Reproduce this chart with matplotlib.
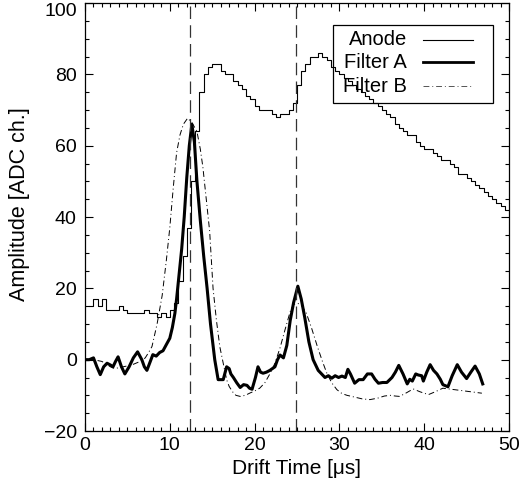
import numpy as np
import matplotlib
matplotlib.use("Agg")
import matplotlib.pyplot as plt
from matplotlib.ticker import MultipleLocator
from matplotlib.patches import Rectangle
import matplotlib.transforms as mtransforms

plt.rcParams['font.family'] = ['Liberation Sans', 'DejaVu Sans']

# ---- data ----
anode_t = [0.5 + 0.5 * i for i in range(99)]
anode_v = [15, 17, 15, 17, 14, 14, 14, 15, 14, 13,
           13, 13, 13, 14, 13, 13, 12, 13, 12, 14,
           16, 22, 29, 37, 50, 64, 75, 80, 82, 83,
           83, 81, 80, 80, 78, 77, 76, 74, 73, 71,
           70, 70, 70, 69, 68, 69, 69, 70, 72, 77,
           81, 83, 85, 85, 86, 85, 84, 82, 81, 80,
           79, 78, 77, 76, 75, 74, 73, 72, 71, 70,
           69, 68, 66, 65, 64, 63, 63, 61, 60, 59,
           59, 58, 57, 56, 56, 55, 54, 52, 52, 51,
           50, 49, 48, 47, 46, 45, 44, 43, 42]

filt_a_t = [0, 0.5, 1.0, 1.4, 1.8, 2.2, 2.6, 3.0, 3.3, 3.6, 3.9, 4.3, 4.7, 5.2, 5.7, 6.2, 6.7, 7.0,
            7.3, 7.7, 8.0, 8.4, 8.8, 9.2, 9.7, 10.0, 10.3, 10.6, 10.8, 11.1, 11.4, 11.7, 12.0, 12.3,
            12.6, 12.9, 13.2, 13.6, 14.0, 14.4, 14.8, 15.3, 15.7, 16.3, 16.7, 17.0, 17.2, 17.5, 17.9,
            18.3, 18.7, 19.1, 19.4, 19.7, 20.1, 20.4, 20.7, 21.0, 21.4, 21.8, 22.1, 22.4, 22.7, 23.0,
            23.4, 23.8, 24.2, 24.6, 25.1, 25.5, 25.9, 26.4, 26.9, 27.5, 28.3, 28.7, 29.1, 29.5, 29.9,
            30.3, 30.7, 31.0, 31.3, 31.8, 32.3, 32.8, 33.3, 33.8, 34.2, 34.6, 35.1, 35.6, 36.2, 36.6,
            37.0, 37.5, 38.0, 38.3, 38.6, 39.0, 39.3, 39.7, 39.9, 40.3, 40.7, 41.1, 41.5, 41.9, 42.2,
            42.8, 43.3, 43.9, 44.4, 45.0, 45.5, 46.0, 46.5, 46.9]
filt_a_v = [0, 0, 0.5, -2, -4.2, -2, -1, -1.5, -2, -0.5, 0.8, -2, -4, -2, 0.5, 2.2, 0, -2,
            -3, -0.5, 1.4, 1.0, 2.0, 2.5, 4.7, 6, 9, 13, 17, 24, 31, 40, 51, 60,
            66, 61, 50, 39, 29, 20, 10, 0, -5.6, -5.6, -2, -2.5, -4, -5, -6.5,
            -7.8, -7, -7.2, -8, -8.3, -5, -2, -3.5, -3.8, -3.5, -3, -2.5, -2, 0, 1.3,
            0.5, 4, 11, 16, 20.6, 17, 12, 5, 0, -3, -5, -4.5, -5.2, -4.5, -5,
            -4.6, -5, -2.7, -4, -6.6, -5.6, -5.6, -4, -4, -5.5, -6.6, -6.4, -6.4, -5, -3.5,
            -1.6, -4, -6.8, -5.5, -6, -4, -4.3, -4.5, -6, -3.5, -1.4, -3, -4, -5.5, -7,
            -7.6, -4.5, -1.4, -3.5, -5.3, -3.5, -1.8, -4, -6.8]

filt_b_t = [0, 1, 2, 3, 3.5, 4.5, 5.5, 6.5, 7.1, 7.5, 7.9, 8.5, 9.1, 9.6, 10.0, 10.4, 10.8, 11.2,
            11.6, 12.1, 12.6, 13.2, 13.6, 13.9, 14.3, 14.7, 15.1, 15.5, 15.9, 16.3, 16.7, 17.0,
            17.4, 17.8, 18.3, 18.9, 19.5, 20.0, 20.6, 21.2, 21.8, 22.4, 23.0, 23.6, 24.2, 24.6,
            25.1, 25.6, 26.1, 26.7, 27.4, 28.0, 28.5, 29.1, 29.7, 30.3, 30.9, 31.8, 32.7, 33.6,
            34.5, 35.3, 36.0, 36.6, 37.1, 37.9, 38.7, 39.5, 40.5, 41.3, 42.2, 43.2, 44.2, 45.5, 46.8]
filt_b_v = [0, 0, -0.5, -2, -2.5, -2, -1.5, -0.5, 0.5, 2, 3.7, 10, 18, 28, 37, 48, 58, 63,
            66, 67.7, 66.5, 64, 59, 54, 45, 36, 20, 11, 3.6, -1, -5.6, -7.5,
            -9, -10, -10.3, -10, -9.3, -8.8, -8, -6.5, -4, -1, 3.3, 8.5, 13.5, 15.5,
            15.8, 15, 13, 9, 3.7, -0.5, -3.7, -6.5, -8.4, -9.5, -10, -10.5, -11, -11.2,
            -10.8, -10.2, -10, -10.2, -10.3, -9.3, -8.2, -9, -9.8, -9, -8, -8.3, -8.6, -9, -9.4]

peak_times = [12.4, 24.9]
legend_labels = ["Anode", "Filter A", "Filter B"]
y_ticks = [-20, 0, 20, 40, 60, 80, 100]
y_tick_labels = ['\u221220', '0', '20', '40', '60', '80', '100']

# ---- figure ----
fig = plt.figure(figsize=(5.19, 4.88), dpi=100, facecolor='white')
ax = fig.add_axes([85 / 519, 1 - 431 / 488, 424 / 519, 428 / 488])

at = list(anode_t) + [50.0]
av = list(anode_v) + [anode_v[-1]]
ax.step(at, av, where='post', color='black', lw=0.8)
ax.plot(filt_a_t, filt_a_v, color='black', lw=2.2)
ax.plot(filt_b_t, filt_b_v, color='black', lw=0.7, dashes=(6, 3, 1, 3))
for t in peak_times:
    ax.axvline(t, color='#333333', lw=0.9, dashes=(10, 5))

ax.set_xlim(0, 50)
ax.set_ylim(-20, 100)
ax.xaxis.set_major_locator(MultipleLocator(10))
ax.xaxis.set_minor_locator(MultipleLocator(1))
ax.yaxis.set_minor_locator(MultipleLocator(5))
ax.set_yticks(y_ticks)
ax.set_yticklabels(y_tick_labels)
ax.tick_params(which='both', direction='in', top=True, right=True, labelsize=14, width=0.8)
ax.tick_params(which='major', length=6)
ax.tick_params(which='minor', length=3)
ax.tick_params(axis='y', which='major', pad=6)
ax.tick_params(axis='x', which='major', pad=4)
for s in ax.spines.values():
    s.set_linewidth(0.9)

# keep the top label "100" inside the figure
top_lab = ax.get_yticklabels()[-1]
top_lab.set_transform(top_lab.get_transform() +
                      mtransforms.ScaledTranslation(0, -6 / 100, fig.dpi_scale_trans))

ax.set_xlabel('Drift Time [\u03bcs]', fontsize=15, labelpad=4)
ax.set_ylabel('Amplitude [ADC ch.]', fontsize=15.5)
ax.yaxis.set_label_coords(-0.13, 0.53)

# legend (manual, right-aligned text, transparent box)
ax.add_patch(Rectangle((0.585, 0.766), 0.377, 0.1826, transform=ax.transAxes,
                       facecolor='none', edgecolor='black', lw=0.9, zorder=5))
rows_y = [0.9136, 0.862, 0.806]
styles = [dict(lw=0.8), dict(lw=2.0), dict(lw=0.7, dashes=(6, 3, 1, 3), color='#555555')]
for lab, yy, st in zip(legend_labels, rows_y, styles):
    ax.text(0.759, yy, lab, transform=ax.transAxes, ha='right', va='center',
            fontsize=14.5, zorder=7)
    kw = dict(color='black')
    kw.update(st)
    ax.plot([0.797, 0.915], [yy, yy], transform=ax.transAxes, zorder=7, **kw)

fig.savefig('out.png', dpi=100, facecolor='white')
